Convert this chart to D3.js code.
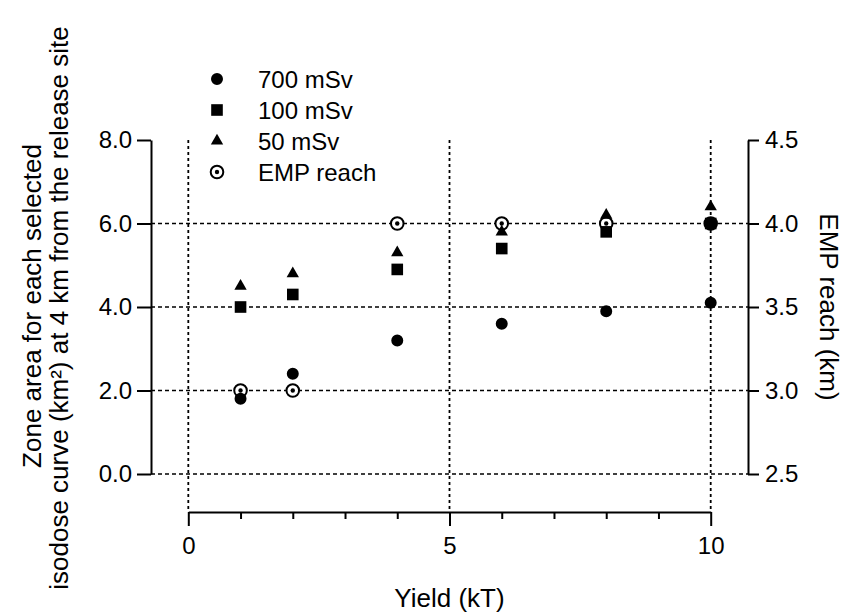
<!DOCTYPE html>
<html>
<head>
<meta charset="utf-8">
<script src="https://cdn.jsdelivr.net/npm/d3@7"></script>
<style>
	body { margin: 0; background: #fff; }
	svg { display: block; font-family: 'Liberation Sans', Arial, sans-serif; }
</style>
</head>
<body>
<div id="chart"></div>
<script>
// values
const yields = [1, 2, 4, 6, 8, 10];
const dose700 = [1.8, 2.4, 3.2, 3.6, 3.9, 4.1];
const dose100 = [4.0, 4.3, 4.9, 5.4, 5.8, 6.0];
const dose50 = [4.5, 4.8, 5.3, 5.8, 6.2, 6.4];
const empReach = [3.0, 3.0, 4.0, 4.0, 4.0, 4.0];

const legendLabels = ['700 mSv', '100 mSv', '50 mSv', 'EMP reach'];
const xTicks = [0, 5, 10];
const xMinorTicks = [1, 2, 3, 4, 6, 7, 8, 9];
const leftTicks = [0, 2, 4, 6, 8];
const rightTicks = [2.5, 3.0, 3.5, 4.0, 4.5];
const hGrid = [0, 2, 4, 6];

const width = 846;
const height = 614;

const svg = d3.select('#chart').append('svg').attr('width', width).attr('height', height);

const x = d3.scaleLinear().domain([0, 10]).range([188.3, 710.7]);
const y = d3.scaleLinear().domain([0, 8]).range([474, 140]);
const yRight = d3.scaleLinear().domain([2.5, 4.5]).range([474, 140]);
const leftX = 151;
const rightX = 748;
const bottomY = 512;

// grid
svg.append('g')
	.selectAll('line')
	.data(hGrid)
	.join('line')
	.attr('x1', leftX)
	.attr('x2', rightX)
	.attr('y1', (d) => y(d))
	.attr('y2', (d) => y(d))
	.attr('stroke', '#000')
	.attr('stroke-width', 1.6)
	.attr('stroke-dasharray', '4,3');

svg.append('g')
	.selectAll('line')
	.data(xTicks)
	.join('line')
	.attr('x1', (d) => x(d))
	.attr('x2', (d) => x(d))
	.attr('y1', y(8))
	.attr('y2', bottomY)
	.attr('stroke', '#000')
	.attr('stroke-width', 1.8)
	.attr('stroke-dasharray', '3,3');

// axes
const styleAxis = (g) => {
	g.selectAll('path.domain').attr('stroke-width', 2);
	g.selectAll('.tick line').attr('stroke-width', 2);
	g.selectAll('text').attr('font-size', 24).attr('fill', '#000').attr('font-family', null);
};

svg.append('g')
	.attr('transform', `translate(${leftX},0)`)
	.call(d3.axisLeft(y).tickValues(leftTicks).tickFormat(d3.format('.1f')).tickSize(14).tickSizeOuter(0).tickPadding(5))
	.call(styleAxis);

svg.append('g')
	.attr('transform', `translate(${rightX},0)`)
	.call(d3.axisRight(yRight).tickValues(rightTicks).tickFormat(d3.format('.1f')).tickSize(11).tickSizeOuter(0).tickPadding(6))
	.call(styleAxis);

svg.append('g')
	.attr('transform', `translate(0,${bottomY})`)
	.call(d3.axisBottom(x).tickValues(xTicks).tickFormat(d3.format('d')).tickSize(14).tickSizeOuter(0).tickPadding(11))
	.call(styleAxis);

svg.append('g')
	.attr('transform', `translate(0,${bottomY})`)
	.call(d3.axisBottom(x).tickValues(xMinorTicks).tickFormat('').tickSize(7).tickSizeOuter(0))
	.call(styleAxis)
	.call((g) => g.select('.domain').remove());

// markers
const sym = {
	circle: d3.symbol().type(d3.symbolCircle).size(113),
	square: d3.symbol().type(d3.symbolSquare).size(135),
	triangle: d3.symbol().type(d3.symbolTriangle).size(66),
};

const drawEmp = (g) => {
	g.append('circle').attr('r', 6.3).attr('fill', '#fff').attr('stroke', '#000').attr('stroke-width', 2);
	g.append('circle').attr('r', 2.2).attr('fill', '#000');
};

// EMP first, the dose markers sit on top of it
svg.append('g')
	.selectAll('g')
	.data(yields)
	.join('g')
	.attr('transform', (d, i) => `translate(${x(d)},${yRight(empReach[i])})`)
	.each(function () {
		drawEmp(d3.select(this));
	});

const series = [
	{ values: dose700, shape: sym.circle },
	{ values: dose100, shape: sym.square },
	{ values: dose50, shape: sym.triangle },
];

series.forEach((s) => {
	svg.append('g')
		.selectAll('path')
		.data(yields)
		.join('path')
		.attr('d', s.shape)
		.attr('transform', (d, i) => `translate(${x(d)},${y(s.values[i])})`)
		.attr('fill', '#000');
});

// legend
const legend = svg.append('g').attr('transform', 'translate(217,79)');
const legendRow = 31;
legendLabels.forEach((label, i) => {
	const row = legend.append('g').attr('transform', `translate(0,${i * legendRow})`);
	if (i < 3) {
		row.append('path').attr('d', series[i].shape).attr('fill', '#000');
	} else {
		drawEmp(row);
	}
	row.append('text')
		.attr('x', 41)
		.attr('dy', '0.36em')
		.attr('font-size', 24)
		.text(label);
});

// axis titles
svg.append('text')
	.attr('x', x(5))
	.attr('y', 607)
	.attr('text-anchor', 'middle')
	.attr('font-size', 26)
	.text('Yield (kT)');

svg.append('text')
	.attr('transform', 'translate(41,306) rotate(-90)')
	.attr('text-anchor', 'middle')
	.attr('font-size', 26)
	.text('Zone area for each selected');

svg.append('text')
	.attr('transform', 'translate(68,308) rotate(-90)')
	.attr('text-anchor', 'middle')
	.attr('font-size', 26)
	.text('isodose curve (km²) at 4 km from the release site');

svg.append('text')
	.attr('transform', 'translate(820,307) rotate(90)')
	.attr('text-anchor', 'middle')
	.attr('font-size', 26)
	.text('EMP reach (km)');
</script>
</body>
</html>
